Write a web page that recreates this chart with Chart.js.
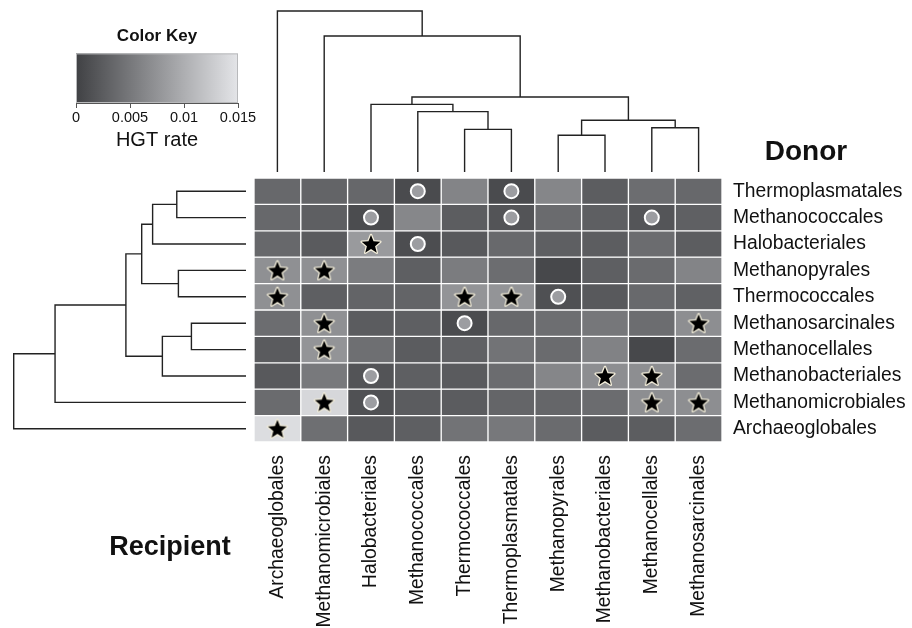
<!DOCTYPE html>
<html>
<head>
<meta charset="utf-8">
<title>HGT rate heatmap</title>
<script src="https://cdn.jsdelivr.net/npm/chart.js@4.4.1/dist/chart.umd.min.js"></script>
<style>
  html, body { margin: 0; padding: 0; background: #fff; }
  #wrap { position: relative; width: 912px; height: 628px; overflow: hidden;
          font-family: 'Liberation Sans', Arial, Helvetica, sans-serif; }
  #wrap canvas { position: absolute; }
  .big { position: absolute; width: 200px; text-align: center; font-weight: bold;
         line-height: 1; color: #111; }
</style>
</head>
<body>
<div id="wrap">
  <canvas id="keyChart" width="300" height="170" style="left:0;top:0"></canvas>
  <canvas id="topTree" width="468" height="175" style="left:254px;top:0"></canvas>
  <canvas id="leftTree" width="248" height="264" style="left:0;top:178px"></canvas>
  <canvas id="heatmap" width="912" height="628" style="left:0;top:0"></canvas>
  <div class="big" style="left:706px;top:137px;font-size:28px">Donor</div>
  <div class="big" style="left:70px;top:533px;font-size:27px">Recipient</div>
</div>
<script>
// Column order (bottom axis)
const recipients = ['Archaeoglobales', 'Methanomicrobiales', 'Halobacteriales', 'Methanococcales',
  'Thermococcales', 'Thermoplasmatales', 'Methanopyrales', 'Methanobacteriales',
  'Methanocellales', 'Methanosarcinales'];

// Row order (right axis, top to bottom)
const donors = ['Thermoplasmatales', 'Methanococcales', 'Halobacteriales', 'Methanopyrales',
  'Thermococcales', 'Methanosarcinales', 'Methanocellales', 'Methanobacteriales',
  'Methanomicrobiales', 'Archaeoglobales'];

// HGT rate, one row per donor, columns follow the recipient order
const hgtRate = [
  [0.0036, 0.0032, 0.0035, 0.0009, 0.0061, 0.0009, 0.0063, 0.0026, 0.0040, 0.0036],
  [0.0036, 0.0027, 0.0010, 0.0064, 0.0026, 0.0017, 0.0038, 0.0027, 0.0018, 0.0028],
  [0.0036, 0.0024, 0.0081, 0.0011, 0.0022, 0.0037, 0.0027, 0.0026, 0.0039, 0.0026],
  [0.0072, 0.0072, 0.0054, 0.0027, 0.0054, 0.0040, 0.0006, 0.0027, 0.0038, 0.0061],
  [0.0072, 0.0027, 0.0032, 0.0032, 0.0076, 0.0076, 0.0014, 0.0022, 0.0037, 0.0029],
  [0.0040, 0.0072, 0.0025, 0.0027, 0.0010, 0.0036, 0.0041, 0.0049, 0.0040, 0.0070],
  [0.0024, 0.0076, 0.0042, 0.0025, 0.0029, 0.0046, 0.0038, 0.0059, 0.0006, 0.0039],
  [0.0022, 0.0051, 0.0017, 0.0027, 0.0024, 0.0039, 0.0063, 0.0070, 0.0070, 0.0039],
  [0.0038, 0.0137, 0.0015, 0.0025, 0.0025, 0.0033, 0.0034, 0.0039, 0.0070, 0.0070],
  [0.0143, 0.0042, 0.0022, 0.0027, 0.0046, 0.0050, 0.0038, 0.0025, 0.0026, 0.0040]
];

// Flagged cells as [donor row, recipient column]
const starCells = [[2, 2], [3, 0], [3, 1], [4, 0], [4, 4], [4, 5], [5, 1], [5, 9], [6, 1],
  [7, 7], [7, 8], [8, 1], [8, 8], [8, 9], [9, 0]];
const circleCells = [[0, 3], [0, 5], [1, 2], [1, 5], [1, 8], [2, 3], [4, 6], [5, 4], [7, 2], [8, 2]];

// Dendrogram merges (hclust style: negative = leaf number, positive = earlier merge), with heights
const recipientTree = [
  [-5, -6, 0.265], [-4, 1, 0.375], [-3, 2, 0.420], [-7, -8, 0.228], [-9, -10, 0.275],
  [4, 5, 0.321], [3, 6, 0.466], [-2, 7, 0.845], [-1, 8, 1.000]
];
const donorTree = [
  [-1, -2, 0.298], [1, -3, 0.402], [-4, -5, 0.291], [2, 3, 0.449], [-6, -7, 0.235],
  [5, -8, 0.360], [4, 6, 0.517], [7, -9, 0.822], [8, -10, 1.000]
];

// Colour key
const keyMax = 0.015;
const keyTicks = [0, 0.005, 0.01, 0.015];
const keyDark = [64, 65, 68];
const keyLight = [228, 229, 232];

Chart.defaults.font.family = "'Liberation Sans', Arial, Helvetica, sans-serif";
Chart.defaults.color = '#111';

function rateColor(v) {
  const t = Math.max(0, Math.min(1, v / keyMax));
  const c = keyDark.map((d, i) => Math.round(d + (keyLight[i] - d) * t));
  return 'rgb(' + c.join(',') + ')';
}

function starSymbol() {
  const s = 26, c = document.createElement('canvas');
  c.width = s; c.height = s;
  const g = c.getContext('2d');
  g.beginPath();
  for (let k = 0; k < 10; k++) {
    const rad = k % 2 ? 4.3 : 9.8;
    const a = -Math.PI / 2 + k * Math.PI / 5;
    g.lineTo(s / 2 + rad * Math.cos(a), s / 2 + 0.8 + rad * Math.sin(a));
  }
  g.closePath();
  g.lineJoin = 'round';
  g.lineWidth = 2.6;
  g.strokeStyle = '#f2edda';
  g.stroke();
  g.fillStyle = '#000';
  g.fill();
  return c;
}

// Turn merge list into U-shaped links: [[pos, h], [pos, h], [pos, h], [pos, h]]
function treeLinks(merges) {
  const pos = [], ht = [];
  const node = idx => idx < 0 ? { p: -idx - 0.5, h: 0 } : { p: pos[idx - 1], h: ht[idx - 1] };
  return merges.map(([a, b, h]) => {
    const A = node(a), B = node(b);
    pos.push((A.p + B.p) / 2);
    ht.push(h);
    return [[A.p, A.h], [A.p, h], [B.p, h], [B.p, B.h]];
  });
}

const quiet = { responsive: false, animation: false, events: [],
  plugins: { legend: { display: false }, tooltip: { enabled: false } } };
const treeLine = { type: 'line', borderColor: '#222', borderWidth: 1.4, pointRadius: 0,
  tension: 0, fill: false, clip: false };

// ---- colour key ----
const keyGradient = {
  id: 'keyGradient',
  beforeDraw(chart) {
    const { ctx, chartArea: a, scales: { x } } = chart;
    const g = ctx.createLinearGradient(x.getPixelForValue(0), 0, x.getPixelForValue(keyMax), 0);
    g.addColorStop(0, rateColor(0));
    g.addColorStop(1, rateColor(keyMax));
    ctx.save();
    ctx.fillStyle = g;
    ctx.fillRect(a.left, a.top, a.width, a.height);
    ctx.strokeStyle = '#b8b9bb';
    ctx.lineWidth = 1;
    ctx.strokeRect(a.left + 0.5, a.top + 0.5, a.width - 1, a.height - 1);
    ctx.restore();
  }
};

new Chart(document.getElementById('keyChart'), {
  type: 'line',
  data: { datasets: [] },
  options: {
    ...quiet,
    layout: { padding: { left: 76, right: 62, top: 0, bottom: 0 } },
    plugins: {
      ...quiet.plugins,
      title: { display: true, text: 'Color Key', color: '#111',
        font: { size: 17, weight: 'bold' }, padding: { top: 26, bottom: 7 } }
    },
    scales: {
      x: {
        type: 'linear', min: 0, max: keyMax,
        afterBuildTicks(s) { s.ticks = keyTicks.map(v => ({ value: v })); },
        ticks: { callback: v => String(v), font: { size: 14.5 }, color: '#111', padding: 1, maxRotation: 0 },
        grid: { drawOnChartArea: false, tickLength: 5, color: '#555' },
        border: { display: true, color: '#555' },
        title: { display: true, text: 'HGT rate', color: '#111', font: { size: 20 },
          padding: { top: 0, bottom: 18 } },
        afterFit(s) { s.height = 67; }
      },
      y: { display: false, min: 0, max: 1 }
    }
  },
  plugins: [keyGradient]
});

// ---- recipient dendrogram (top) ----
new Chart(document.getElementById('topTree'), {
  type: 'line',
  data: {
    datasets: treeLinks(recipientTree).map(link => ({
      ...treeLine, data: link.map(([p, h]) => ({ x: p, y: h }))
    }))
  },
  options: {
    ...quiet,
    layout: { padding: { left: 0, right: 0, top: 11, bottom: 3 } },
    scales: {
      x: { type: 'linear', display: false, min: 0, max: recipients.length },
      y: { type: 'linear', display: false, min: 0, max: 1 }
    }
  }
});

// ---- donor dendrogram (left) ----
new Chart(document.getElementById('leftTree'), {
  type: 'line',
  data: {
    datasets: treeLinks(donorTree).map(link => ({
      ...treeLine, data: link.map(([p, h]) => ({ x: h, y: p }))
    }))
  },
  options: {
    ...quiet,
    layout: { padding: { left: 13.7, right: 2, top: 0, bottom: 0 } },
    scales: {
      x: { type: 'linear', display: false, min: 0, max: 1, reverse: true },
      y: { type: 'linear', display: false, min: 0, max: donors.length, reverse: true }
    }
  }
});

// ---- heatmap ----
const cellSets = donors.map((name, r) => ({
  type: 'bar',
  label: name,
  data: recipients.map(() => [r, r + 1]),
  backgroundColor: hgtRate[r].map(rateColor),
  borderColor: '#fff',
  borderWidth: 1,
  borderSkipped: false,
  categoryPercentage: 1,
  barPercentage: 1,
  grouped: false,
  xAxisID: 'x',
  yAxisID: 'y',
  order: 1
}));

const starImg = starSymbol();
const markerSets = [
  {
    type: 'line', label: 'star', showLine: false, order: 0, xAxisID: 'x', yAxisID: 'y',
    data: starCells.map(([r, c]) => ({ x: recipients[c], y: r + 0.5 })),
    pointStyle: starImg, pointRadius: 10
  },
  {
    type: 'line', label: 'circle', showLine: false, order: 0, xAxisID: 'x', yAxisID: 'y',
    data: circleCells.map(([r, c]) => ({ x: recipients[c], y: r + 0.5 })),
    pointStyle: 'circle', pointRadius: 7, pointBorderWidth: 2,
    pointBackgroundColor: '#9c9da1', pointBorderColor: '#fff'
  }
];

new Chart(document.getElementById('heatmap'), {
  type: 'bar',
  data: { labels: recipients, datasets: [...markerSets, ...cellSets] },
  options: {
    ...quiet,
    layout: { padding: { left: 254, top: 178, right: 0, bottom: 0 } },
    scales: {
      x: {
        type: 'category', offset: true,
        grid: { display: false, drawTicks: false }, border: { display: false },
        ticks: { autoSkip: false, minRotation: 90, maxRotation: 90, padding: 13,
          font: { size: 19.3 }, color: '#111' },
        afterFit(s) { s.height = 186; }
      },
      y: { type: 'linear', display: false, min: 0, max: donors.length, reverse: true },
      yLab: {
        type: 'category', labels: donors, position: 'right', offset: true,
        grid: { display: false, drawTicks: false }, border: { display: false },
        ticks: { padding: 11, font: { size: 19.3 }, color: '#111' },
        afterFit(s) { s.width = 190; }
      }
    }
  }
});
</script>
</body>
</html>
